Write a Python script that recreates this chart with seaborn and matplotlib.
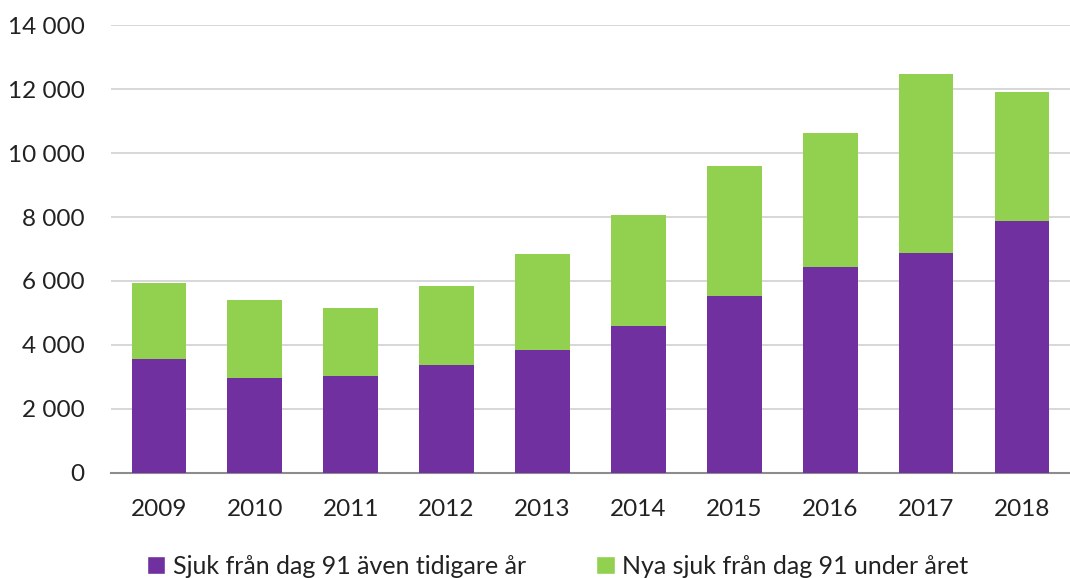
import matplotlib
matplotlib.use("Agg")
import matplotlib.pyplot as plt
import matplotlib.ticker as mticker
from matplotlib.patches import Patch
import seaborn as sns
import pandas as pd

years = ["2009", "2010", "2011", "2012", "2013", "2014", "2015", "2016", "2017", "2018"]
sjuk_tidigare = [3570, 2960, 3020, 3380, 3840, 4600, 5530, 6440, 6890, 7870]
totalt = [5950, 5400, 5150, 5850, 6850, 8050, 9600, 10610, 12480, 11900]
label_purple = "Sjuk från dag 91 även tidigare år"
label_green = "Nya sjuk från dag 91 under året"

purple = "#7030A0"
green = "#92D050"

df = pd.DataFrame({"year": years, "sjuk": sjuk_tidigare, "total": totalt})

sns.set_style("white")
plt.rcParams["font.family"] = ["Lato", "DejaVu Sans"]

fig = plt.figure(figsize=(10.7, 5.78), dpi=100)
ax = fig.add_axes([0.1037, 0.1817, 0.8963, 0.775])

sns.barplot(data=df, x="year", y="total", color=green, width=0.57,
            saturation=1, ax=ax, zorder=3, linewidth=0)
sns.barplot(data=df, x="year", y="sjuk", color=purple, width=0.57,
            saturation=1, ax=ax, zorder=3, linewidth=0)

ax.set_ylim(0, 14000)
ax.set_xlim(-0.5, len(years) - 0.5)
ax.set_yticks(range(0, 14001, 2000))
ax.yaxis.set_major_formatter(mticker.FuncFormatter(lambda v, p: f"{int(v):,}".replace(",", " ")))
ax.grid(axis="y", color="#d4d4d4", linewidth=1.3, zorder=0)
ax.set_axisbelow(True)
for s in ["top", "right", "left"]:
    ax.spines[s].set_visible(False)
ax.spines["bottom"].set_color("#8c8c8c")
ax.spines["bottom"].set_linewidth(1.5)
ax.set_xlabel("")
ax.set_ylabel("")
ax.tick_params(axis="y", length=0, pad=19, labelsize=17.5, labelcolor="#222222")
ax.tick_params(axis="x", length=0, pad=19, labelsize=17.5, labelcolor="#222222")

handles = [Patch(facecolor=purple, label=label_purple), Patch(facecolor=green, label=label_green)]
fig.legend(handles=handles, loc="center", bbox_to_anchor=(0.521, 0.02), ncol=2,
           frameon=False, fontsize=18, handlelength=0.75, handleheight=0.75,
           handletextpad=0.3, columnspacing=2.8, labelcolor="#222222")

fig.savefig("out.png", dpi=100)
